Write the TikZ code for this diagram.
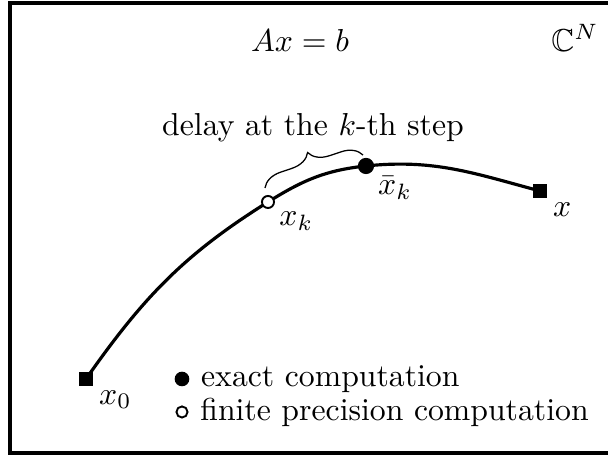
\documentclass[tikz,border=0pt]{standalone}
\usepackage{amssymb}
\usetikzlibrary{decorations.pathreplacing,positioning}

\tikzset{
  endpt/.style={draw,fill,rectangle,inner sep=0pt,minimum size=3.8pt},
  exact/.style={draw,fill,circle,inner sep=0pt,minimum size=4.7pt},
  finite/.style={draw,fill=white,circle,inner sep=0pt,minimum size=3.8pt,line width=0.6pt},
  lbl/.style={below right=-2pt and -1.5pt of #1},
}

\begin{document}
\begin{tikzpicture}[x=0.315pt,y=0.315pt]
\useasboundingbox (0,0) rectangle (608,456);
\draw[line width=1pt] (10,3) rectangle (640,453);
\node (eq) at (300,416) {$Ax=b$};
\node (space) at (575,418) {$\mathbb{C}^N$};
% iterates along the path
\coordinate (c0) at (86,77);
\coordinate (ck) at (268,254);
\coordinate (cbar) at (366,290);
\coordinate (csol) at (540,265);
\draw[line width=1pt] (c0) to[out=55,in=212] (ck) to[out=32,in=186] (cbar)
  to[out=6,in=165] (csol);
\node[endpt] (x0) at (c0) {};
\node[endpt] (xsol) at (csol) {};
\node[exact] (xbar) at (cbar) {};
\node[finite] (xk) at (ck) {};
\node[lbl=x0] {$x_0$};
\node[lbl=xsol] {$x$};
\node[lbl=xbar] {$\bar{x}_k$};
\node[lbl=xk] {$x_k$};
% the delay
\coordinate (bl) at (265,268);
\coordinate (br) at (363,301);
\draw[decorate,decoration={brace,amplitude=6.3pt}] (bl) -- (br);
\node (delay) at (313,328) {delay at the $k$-th step};
% legend
\node[exact,minimum size=4.2pt] (lex) at (182,77) {};
\node[finite,minimum size=3.5pt] (lfin) at (182,44) {};
\node[right=0.2pt of lex] (texact) {exact computation};
\node[right=0.2pt of lfin] (tfin) {finite precision computation};
\end{tikzpicture}
\end{document}
